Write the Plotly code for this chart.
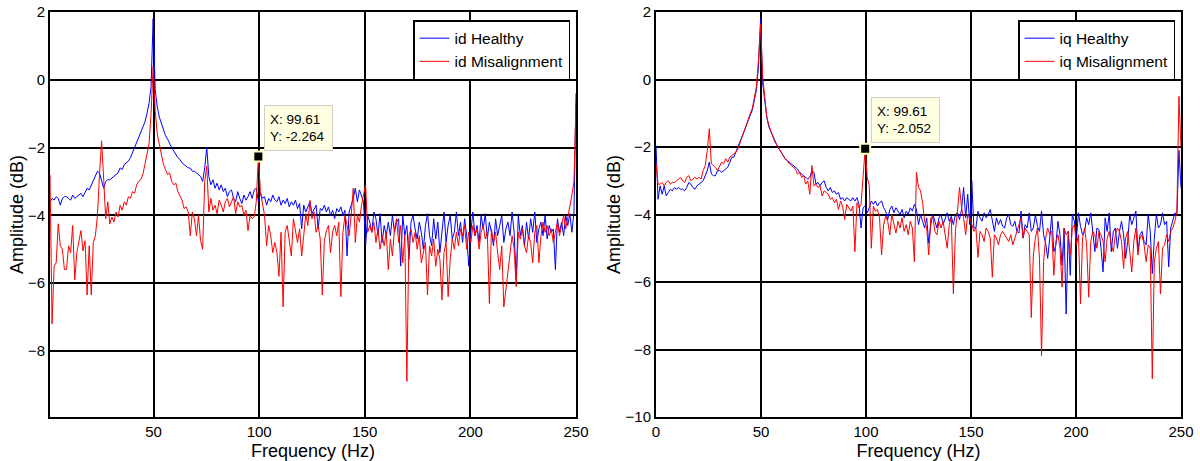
import numpy as np
import plotly.graph_objects as go

# frequency bins of a 512-point FFT at 500 Hz sampling (0 .. 250 Hz)
freq = list(np.fft.rfftfreq(512, d=1 / 500.0))

id_healthy = [
    -3.6, -3.6, -3.5, -3.55, -3.45, -3.5, -3.7, -3.5, -3.45, -3.45,
    -3.5, -3.55, -3.4, -3.5, -3.45, -3.4, -3.35, -3.45, -3.3, -3.2,
    -3.25, -3.1, -3.0, -2.85, -2.7, -2.75, -2.95, -3.2, -3.0, -2.95,
    -2.95, -2.9, -2.85, -2.8, -2.75, -2.6, -2.65, -2.5, -2.45, -2.4,
    -2.3, -2.15, -2.0, -1.85, -1.75, -1.6, -1.45, -1.25, -1.0, -0.7,
    -0.2, 1.8, -0.3, -0.8, -1.1, -1.3, -1.5, -1.65, -1.75, -1.9,
    -2.0, -2.1, -2.2, -2.3, -2.35, -2.45, -2.5, -2.55, -2.6, -2.6,
    -2.7, -2.7, -2.75, -2.8, -2.85, -3.0, -2.6, -2.0, -2.85, -3.1,
    -2.95, -3.2, -3.05, -3.25, -3.1, -3.3, -3.2, -3.45, -3.3, -3.25,
    -3.5, -3.6, -3.3, -3.5, -3.65, -3.4, -3.55, -3.45, -3.3, -3.5,
    -3.25, -3.2, -3.6, -3.35, -3.5, -3.45, -3.7, -3.5, -3.6, -3.4,
    -3.55, -3.6, -3.45, -3.7, -3.55, -3.65, -3.5, -3.75, -3.6, -3.7,
    -3.55, -3.8, -3.65, -4.4, -3.7, -3.9, -3.75, -3.6, -3.95, -3.8,
    -3.7, -4.4, -3.8, -3.85, -3.7, -3.9, -3.75, -4.0, -3.85, -4.1,
    -3.8, -3.9, -3.75, -4.0, -3.85, -5.2, -3.9, -3.7, -3.5, -3.2,
    -3.6, -3.25, -3.4, -3.6, -4.9, -4.0, -4.2, -4.5, -3.9, -4.1,
    -4.6, -3.95, -4.8, -4.3, -4.6, -4.2, -4.6, -4.0, -4.5, -4.2,
    -4.1, -5.5, -4.0, -4.6, -4.3, -5.3, -4.2, -4.0, -4.4, -4.7,
    -4.2, -4.5, -5.0, -4.3, -3.95, -4.6, -4.9, -4.1, -4.7, -4.2,
    -5.1, -4.4, -3.9, -4.8, -4.3, -4.0, -4.7, -4.5, -3.9, -4.6,
    -4.2, -4.8, -4.1, -4.6, -5.5, -4.5, -3.9, -4.6, -4.3, -4.8,
    -4.0, -4.4, -3.95, -4.7, -4.2, -4.5, -4.9, -4.1, -4.6, -4.3,
    -4.0, -4.8, -4.4, -4.2, -4.6, -3.9, -4.5, -5.9, -4.0, -4.6,
    -4.3, -4.9, -4.2, -4.7, -4.1, -4.5, -3.9, -4.8, -4.4, -4.2,
    -4.6, -4.0, -4.7, -4.3, -4.5, -4.4, -5.6, -4.1, -4.5, -4.2,
    -4.6, -4.0, -4.3, -3.95, -4.5, -3.9, -0.4,
]

id_misalign = [
    -2.8, -2.8, -7.2, -5.5, -5.4, -4.25, -4.9, -5.0, -5.6, -5.6,
    -4.9, -5.1, -4.3, -5.9, -5.1, -4.8, -4.45, -5.05, -4.75, -6.35,
    -4.9, -6.35, -4.8, -4.6, -4.0, -2.8, -1.8, -2.9, -4.1, -3.6,
    -4.25, -4.05, -4.2, -3.9, -4.05, -3.7, -3.85, -3.6, -3.7, -3.45,
    -3.5, -3.3, -3.35, -3.1, -3.0, -2.95, -2.8, -2.5, -2.2, -1.9,
    -1.0, 0.4, -0.9, -1.6, -1.9, -2.2, -2.5, -2.65, -2.8, -2.75,
    -3.0, -3.1, -3.05, -3.3, -3.45, -3.55, -3.8, -3.75, -3.9, -4.6,
    -3.9, -4.1, -4.6, -4.0, -4.75, -5.0, -3.0, -2.55, -3.9, -3.5,
    -3.85, -3.7, -3.95, -3.55, -3.7, -3.9, -3.6, -3.5, -3.75, -3.6,
    -3.45, -3.95, -3.6, -3.75, -3.7, -4.0, -3.85, -4.45, -4.0, -4.1,
    -4.05, -3.6, -2.264, -3.3, -3.6, -4.0, -4.9, -4.3, -4.6, -5.1,
    -4.8, -5.1, -5.8, -4.5, -6.7, -4.5, -4.3, -4.7, -5.2, -4.1,
    -4.5, -4.8, -4.4, -5.2, -4.6, -3.95, -4.3, -3.56, -4.1, -3.9,
    -4.5, -4.3, -4.7, -6.35, -4.75, -4.45, -4.3, -5.1, -4.5, -4.3,
    -4.6, -4.2, -6.4, -4.5, -4.0, -4.3, -4.6, -4.0, -3.2, -4.8,
    -4.0, -4.2, -3.7, -3.4, -3.1, -4.5, -4.3, -4.5, -4.2, -4.8,
    -4.4, -5.0, -4.6, -4.9, -4.5, -5.6, -4.7, -5.2, -4.4, -4.1,
    -4.8, -4.3, -5.4, -4.6, -8.9, -4.6, -4.4, -4.8, -4.5, -5.0,
    -4.6, -5.4, -5.1, -4.8, -6.35, -4.9, -5.2, -4.7, -5.5, -5.0,
    -5.3, -6.5, -5.1, -4.8, -6.4, -5.3, -4.7, -5.0, -4.5, -4.9,
    -4.4, -4.6, -4.3, -5.0, -4.5, -4.8, -4.3, -4.6, -4.4, -5.0,
    -4.5, -4.3, -4.7, -4.5, -6.6, -4.4, -4.8, -4.5, -5.1, -5.6,
    -4.9, -6.7, -6.2, -5.7, -5.2, -4.6, -5.0, -6.1, -4.5, -4.7,
    -4.4, -4.9, -5.1, -4.6, -4.8, -5.4, -4.5, -4.3, -5.4, -4.6,
    -4.2, -4.5, -4.3, -4.6, -4.4, -4.8, -4.5, -4.2, -4.6, -4.3,
    -4.0, -4.4, -4.1, -3.7, -3.4, -3.0, -0.7,
]

iq_healthy = [
    -1.96, -3.55, -3.15, -3.4, -3.15, -3.45, -3.35, -3.25, -3.3, -3.2,
    -3.25, -3.2, -3.25, -3.25, -3.3, -3.2, -3.05, -3.1, -3.2, -3.25,
    -3.15, -3.1, -3.05, -3.0, -2.85, -2.7, -2.45, -2.8, -2.85, -2.85,
    -2.7, -2.7, -2.75, -2.7, -2.65, -2.6, -2.45, -2.3, -2.3, -2.15,
    -2.0, -1.85, -1.7, -1.55, -1.4, -1.25, -1.1, -0.9, -0.6, -0.3,
    0.4, 1.8, -0.1, -0.6, -1.1, -1.4, -1.55, -1.7, -1.85, -1.95,
    -2.05, -2.15, -2.25, -2.35, -2.4, -2.45, -2.5, -2.55, -2.6, -2.65,
    -2.75, -2.8, -2.85, -2.9, -2.95, -2.9, -2.7, -2.75, -3.1, -3.05,
    -3.15, -3.05, -3.0, -3.2, -3.3, -3.2, -3.35, -3.3, -3.4, -3.35,
    -3.55, -3.5, -3.6, -3.5, -3.55, -3.6, -3.5, -3.6, -3.5, -3.7,
    -4.4, -3.8, -3.75, -3.95, -3.8, -3.6, -3.7, -3.6, -3.75, -3.65,
    -3.6, -3.8, -3.9, -4.15, -3.85, -3.75, -3.95, -3.8, -3.9, -4.0,
    -3.85, -4.1, -3.9, -4.0, -3.8, -3.9, -3.7, -3.85, -4.3, -4.0,
    -4.2, -4.4, -4.1, -4.85, -4.3, -4.0, -4.2, -4.4, -4.1, -4.0,
    -4.3, -4.1, -3.95, -4.2, -4.05, -4.3, -4.0, -3.95, -4.15, -3.85,
    -3.2, -4.1, -3.4, -4.3, -3.0, -4.4, -4.4, -3.9, -4.1, -4.2,
    -3.95, -4.1, -4.0, -3.85, -4.2, -4.5, -4.1, -4.3, -4.15, -4.35,
    -4.4, -4.1, -4.0, -4.3, -4.35, -4.2, -4.5, -4.55, -3.9, -4.7,
    -4.3, -4.4, -3.95, -4.5, -4.4, -4.0, -4.35, -4.5, -3.9, -4.6,
    -4.85, -5.3, -4.7, -4.0, -5.1, -4.9, -4.2, -4.6, -5.5, -4.4,
    -6.95, -4.5, -5.8, -4.0, -4.2, -4.7, -3.95, -4.35, -4.6, -4.5,
    -4.1, -4.3, -3.95, -4.6, -5.1, -4.4, -4.45, -5.0, -5.7, -4.1,
    -4.5, -3.95, -5.1, -4.5, -4.4, -5.0, -4.5, -4.2, -4.6, -5.3,
    -4.8, -4.0, -4.3, -4.1, -3.9, -5.1, -4.6, -4.5, -4.8, -4.9,
    -4.0, -4.5, -5.75, -4.7, -4.0, -4.4, -4.3, -3.95, -4.3, -4.2,
    -5.55, -4.4, -4.2, -3.95, -4.0, -2.1, -3.2,
]

iq_misalign = [
    -2.5, -3.1, -3.1, -3.05, -3.15, -3.05, -3.0, -3.1, -3.05, -3.05,
    -3.0, -2.95, -2.9, -3.0, -3.05, -2.9, -2.85, -3.0, -2.95, -2.9,
    -2.95, -2.9, -2.95, -2.7, -2.55, -2.1, -1.46, -2.5, -2.55, -2.6,
    -2.7, -2.55, -2.45, -2.5, -2.35, -2.45, -2.3, -2.25, -2.2, -2.15,
    -2.05, -1.85, -1.7, -1.55, -1.35, -1.2, -1.0, -0.85, -0.55, -0.2,
    0.6, 1.65, 0.1, -0.6, -1.1, -1.35, -1.55, -1.7, -1.85, -1.95,
    -2.05, -2.15, -2.25, -2.35, -2.4, -2.5, -2.55, -2.6, -2.65, -2.8,
    -2.75, -2.9, -2.85, -3.1, -3.0, -3.4, -2.55, -3.15, -3.1, -3.2,
    -3.15, -3.45, -3.3, -3.35, -3.4, -3.55, -3.5, -3.65, -3.55, -3.85,
    -3.6, -3.75, -4.15, -3.7, -3.8, -3.9, -3.75, -5.1, -3.65, -3.8,
    -3.7, -2.9, -2.052, -2.9, -3.15, -5.0, -3.75, -3.9, -3.85, -4.1,
    -5.2, -4.3, -4.05, -4.2, -4.6, -4.0, -4.3, -4.55, -4.2, -4.4,
    -4.1, -4.5, -4.3, -4.6, -4.2, -4.4, -5.4, -2.75, -3.2, -3.3,
    -3.65, -4.2, -4.4, -5.2, -4.1, -4.05, -4.5, -4.6, -4.2, -4.4,
    -4.2, -4.6, -5.0, -4.3, -4.1, -6.35, -4.5, -3.9, -3.2, -3.8,
    -4.1, -4.6, -4.0, -4.1, -4.3, -4.5, -4.4, -5.27, -4.5, -4.6,
    -4.8, -4.4, -4.5, -4.7, -5.86, -4.6, -4.7, -4.9, -4.6, -4.5,
    -4.6, -4.7, -4.8, -4.6, -4.9, -4.7, -4.5, -4.3, -4.1, -4.7,
    -4.4, -4.5, -4.6, -7.05, -5.2, -4.7, -4.4, -5.3, -8.18, -5.4,
    -4.7, -4.4, -4.6, -4.5, -5.8, -4.8, -4.6, -5.0, -6.15, -4.4,
    -4.6, -4.5, -5.2, -4.4, -4.3, -4.9, -4.6, -6.65, -4.7, -4.4,
    -4.9, -6.45, -4.8, -4.5, -4.6, -5.0, -4.5, -4.6, -4.8, -5.4,
    -4.7, -4.5, -4.9, -5.1, -4.6, -4.4, -4.5, -4.8, -5.6, -4.7,
    -4.5, -5.1, -5.7, -4.8, -4.4, -5.2, -4.7, -4.6, -4.9, -5.4,
    -4.9, -5.0, -8.87, -5.4, -5.0, -4.8, -6.35, -5.0, -4.9, -4.6,
    -4.8, -4.5, -4.4, -4.2, -3.9, -0.5, -2.0,
]

x_ticks_left = [50, 100, 150, 200, 250]
x_ticks_right = [0, 50, 100, 150, 200, 250]
y_ticks_left = [-8, -6, -4, -2, 0, 2]
y_ticks_right = [-10, -8, -6, -4, -2, 0, 2]
tip_index = 102

FONT = "Liberation Sans, Arial, sans-serif"
BLUE = "#0000ff"
RED = "#ff0000"

fig = go.Figure()
fig.add_trace(go.Scatter(x=freq, y=id_healthy, mode="lines", name="id Healthy",
                         line=dict(color=BLUE, width=1), xaxis="x", yaxis="y", legend="legend"))
fig.add_trace(go.Scatter(x=freq, y=id_misalign, mode="lines", name="id Misalignment",
                         line=dict(color=RED, width=1), xaxis="x", yaxis="y", legend="legend"))
fig.add_trace(go.Scatter(x=freq, y=iq_healthy, mode="lines", name="iq Healthy",
                         line=dict(color=BLUE, width=1), xaxis="x2", yaxis="y2", legend="legend2"))
fig.add_trace(go.Scatter(x=freq, y=iq_misalign, mode="lines", name="iq Misalignment",
                         line=dict(color=RED, width=1), xaxis="x2", yaxis="y2", legend="legend2"))

# data-tip markers
for xa, ya, series in (("x", "y", id_misalign), ("x2", "y2", iq_misalign)):
    fig.add_trace(go.Scatter(x=[freq[tip_index]], y=[series[tip_index]], mode="markers",
                             marker=dict(symbol="square", size=10, color="black",
                                         line=dict(color="#ffffc8", width=2)),
                             xaxis=xa, yaxis=ya, showlegend=False, hoverinfo="skip"))

annotations = []
for xa, ya, series in (("x", "y", id_misalign), ("x2", "y2", iq_misalign)):
    annotations.append(dict(
        x=freq[tip_index], y=series[tip_index], xref=xa, yref=ya,
        text=f"X: {freq[tip_index]:.2f}<br>Y: {series[tip_index]:.3f}",
        showarrow=False, xanchor="left", yanchor="bottom", xshift=6, yshift=6,
        align="left", valign="middle", width=57, height=34,
        bgcolor="#ffffe1", bordercolor="#cfcfc0", borderwidth=1, borderpad=5,
        font=dict(family=FONT, size=13.5, color="black")))

axis_common = dict(showgrid=True, gridcolor="black", gridwidth=1.8, showline=True,
                   linecolor="black", linewidth=2, mirror=True, zeroline=False,
                   automargin=False, ticks="", ticklen=0,
                   tickfont=dict(family=FONT, size=15, color="black"))

fig.update_layout(
    width=1200, height=461,
    margin=dict(l=50, r=19, t=12, b=44),
    paper_bgcolor="white", plot_bgcolor="white",
    font=dict(family=FONT, size=15, color="black"),
    xaxis=dict(domain=[0, 0.4651], range=[0.98, 250], tickvals=x_ticks_left,
               title=dict(text="Frequency (Hz)"), anchor="y", **axis_common),
    yaxis=dict(range=[-9.95, 2], tickvals=y_ticks_left,
               title=dict(text="Amplitude (dB)", standoff=0), anchor="x", **axis_common),
    xaxis2=dict(domain=[0.5358, 1], range=[0, 250], tickvals=x_ticks_right,
                title=dict(text="Frequency (Hz)"), anchor="y2", **axis_common),
    yaxis2=dict(range=[-10, 2], tickvals=y_ticks_right,
                title=dict(text="Amplitude (dB)", standoff=0), anchor="x2", **axis_common),
    legend=dict(x=0.4598, y=0.98, xanchor="right", yanchor="top", bgcolor="white",
                bordercolor="black", borderwidth=1.5, font=dict(family=FONT, size=15.5),
                tracegroupgap=0),
    legend2=dict(x=0.9947, y=0.98, xanchor="right", yanchor="top", bgcolor="white",
                 bordercolor="black", borderwidth=1.5, font=dict(family=FONT, size=15.5),
                 tracegroupgap=0),
    annotations=annotations,
    showlegend=True,
)

fig.write_html("out.html", config={"displayModeBar": False},
               post_script="document.body.style.margin='0';document.body.style.overflow='hidden';")
